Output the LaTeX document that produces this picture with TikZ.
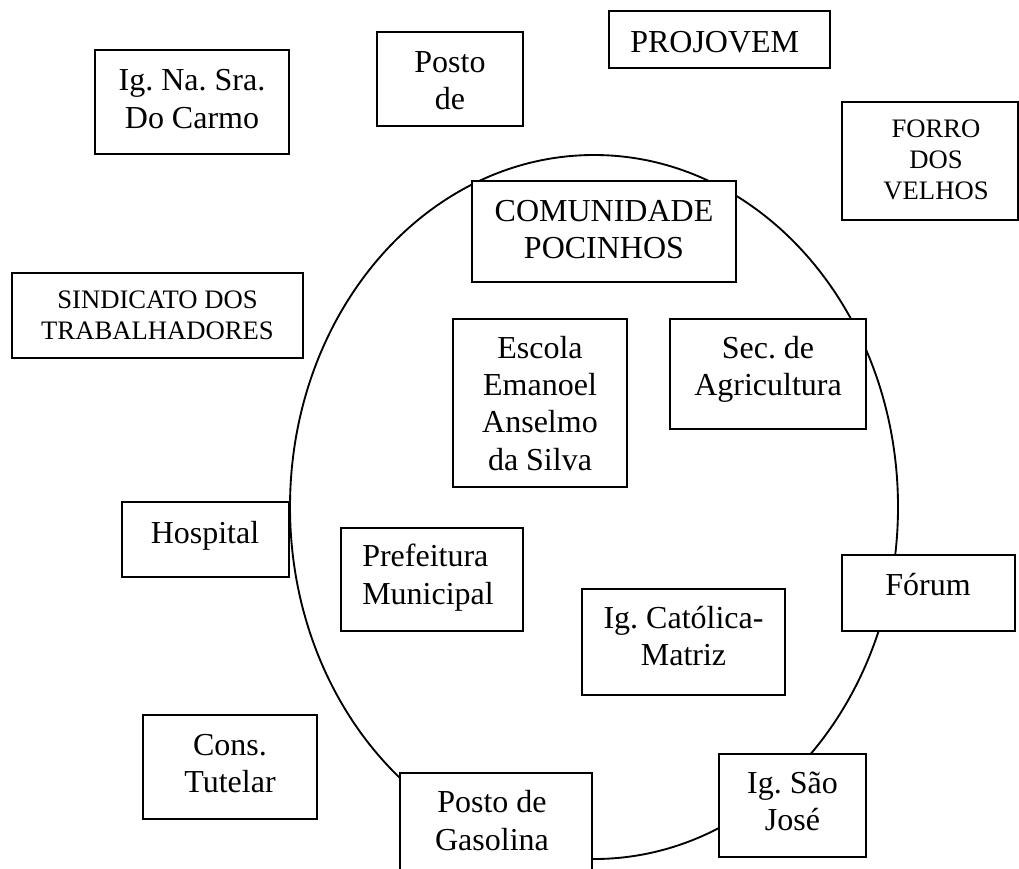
\documentclass[tikz,border=0pt]{standalone}
\usepackage{fontspec}
\setmainfont{Liberation Serif}
\frenchspacing
\usetikzlibrary{fit}
\tikzset{
  box/.style={draw=black, line width=1.6pt, fill=white, inner sep=0pt, rectangle},
  big/.style={inner sep=0pt, font=\fontsize{24}{28.1}\selectfont},
  small/.style={inner sep=0pt, font=\fontsize{20}{23.25}\selectfont},
  ring/.style={draw=black, line width=1.4pt}
}
\newcommand{\lines}[1]{\begin{tabular}[t]{@{}c@{}}#1\end{tabular}}
\newcommand{\llines}[1]{\begin{tabular}[t]{@{}l@{}}#1\end{tabular}}
\begin{document}
\begin{tikzpicture}[x=0.75pt, y=-0.75pt]
\clip (0,0) rectangle (1019,868);
\fill[white] (0,0) rectangle (1019,868);
% central ellipse
\draw[ring] (594,507) ellipse [x radius=228pt, y radius=264pt];
% boxes
\node[box, fit={(95,50) (289,154)}] (igsra) {};
\node[box, fit={(377,32) (523,126)}] (posto) {};
\node[box, fit={(609,11) (830,68)}] (projovem) {};
\node[box, fit={(842,102) (1018,220)}] (forro) {};
\node[box, fit={(472,181) (736,282)}] (comunidade) {};
\node[box, fit={(12,273) (303,358)}] (sindicato) {};
\node[box, fit={(453,319) (627,487)}] (escola) {};
\node[box, fit={(670,319) (866,429)}] (sec) {};
\node[box, fit={(122,502) (289,577)}] (hospital) {};
\node[box, fit={(341,528) (523,631)}] (prefeitura) {};
\node[box, fit={(582,589) (785,695)}] (catolica) {};
\node[box, fit={(842,555) (1015,631)}] (forum) {};
\node[box, fit={(143,715) (317,819)}] (cons) {};
\node[box, fit={(400,773) (592,885)}] (gasolina) {};
\node[box, fit={(719,754) (866,857)}] (saojose) {};
% texts
\node[big, anchor=base] (igsra-t) at (192,90.7) {\lines{Ig. Na. Sra.\\Do Carmo}};
\node[big, anchor=base] (posto-t) at (450,72) {\lines{Posto\\de}};
\node[big, anchor=base west] (projovem-t) at (630,52) {PROJOVEM};
\node[small, anchor=base] (forro-t) at (936,137) {\lines{FORRO\\DOS\\VELHOS}};
\node[big, anchor=base] (comunidade-t) at (604,221) {\lines{COMUNIDADE\\POCINHOS}};
\node[small, anchor=base] (sindicato-t) at (157.5,308) {\lines{SINDICATO DOS\\TRABALHADORES}};
\node[big, anchor=base] (escola-t) at (540,358) {\lines{Escola\\Emanoel\\Anselmo\\da Silva}};
\node[big, anchor=base] (sec-t) at (768,358) {\lines{Sec. de\\Agricultura}};
\node[big, anchor=base] (hospital-t) at (205,543) {Hospital};
\node[big, anchor=base west] (prefeitura-t) at (362,566.7) {\llines{Prefeitura\\Municipal}};
\node[big, anchor=base] (catolica-t) at (683.5,628) {\lines{Ig. Católica-\\Matriz}};
\node[big, anchor=base] (forum-t) at (928,595) {Fórum};
\node[big, anchor=base] (cons-t) at (230,755) {\lines{Cons.\\Tutelar}};
\node[big, anchor=base] (gasolina-t) at (492,812.7) {\lines{Posto de\\Gasolina}};
\node[big, anchor=base] (saojose-t) at (792.5,793) {\lines{Ig. São\\José}};
\end{tikzpicture}
\end{document}
